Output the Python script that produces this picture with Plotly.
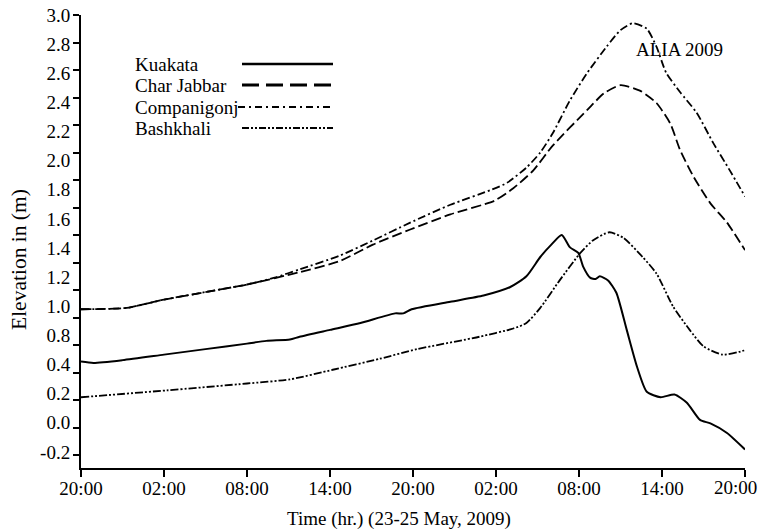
import plotly.graph_objects as go

# ---------------- data (hours after 23 May 20:00, elevation in m) ----------------
kuakata_h = [0, 0.9, 3, 6, 9, 12, 13.4, 15.1, 15.8, 18.0, 20.2, 22.7, 23.3, 23.9, 26.7, 29.1,
             31.0, 32.2, 33.2, 34.0, 34.75, 35.35, 35.95, 36.3, 36.8, 37.2, 37.5, 38.1, 38.7,
             39.45, 40.2, 40.9, 41.9, 42.9, 43.8, 44.75, 45.5, 46.7, 48]
kuakata_v = [0.48, 0.47, 0.49, 0.53, 0.57, 0.61, 0.63, 0.64, 0.66, 0.71, 0.76, 0.83, 0.83, 0.86,
             0.915, 0.96, 1.02, 1.10, 1.24, 1.33, 1.40, 1.31, 1.27, 1.17, 1.09, 1.08, 1.10, 1.07,
             0.98, 0.71, 0.44, 0.26, 0.22, 0.24, 0.18, 0.055, 0.03, -0.04, -0.16]

charjabbar_h = [0, 3.3, 6, 9, 12, 15.8, 18.7, 21.1, 23.8, 26.7, 29.9, 31.25, 32.7, 34.1, 36.6,
                37.8, 39.0, 40.4, 41.6, 42.6, 43.3, 44.3, 45.5, 46.7, 48]
charjabbar_v = [0.86, 0.87, 0.93, 0.985, 1.04, 1.13, 1.21, 1.33, 1.44, 1.55, 1.65, 1.74, 1.87,
                2.05, 2.31, 2.43, 2.49, 2.45, 2.36, 2.21, 2.02, 1.82, 1.63, 1.49, 1.29]

companigonj_h = [0, 3.3, 6, 9, 12, 14, 15.8, 18.7, 21.1, 23.8, 26.7, 29.7, 30.8, 32.2, 33.2,
                 34.1, 35.35, 36.6, 38.0, 39.0, 39.9, 40.9, 41.6, 42.3, 43.3, 44.5, 45.7, 46.9, 48]
companigonj_v = [0.86, 0.87, 0.93, 0.985, 1.04, 1.09, 1.15, 1.25, 1.36, 1.49, 1.62, 1.73, 1.78,
                 1.89, 2.00, 2.14, 2.38, 2.58, 2.77, 2.89, 2.94, 2.90, 2.77, 2.58, 2.44, 2.29,
                 2.07, 1.87, 1.68]

bashkhali_h = [0, 6.2, 12, 15.1, 18.2, 21.6, 24.3, 28.8, 31.25, 32.2, 33.2, 34.6, 36.1, 37.0,
               38.2, 39.2, 40.6, 41.6, 42.8, 44.0, 45.0, 46.4, 47.9, 48]
bashkhali_v = [0.22, 0.27, 0.32, 0.35, 0.42, 0.50, 0.57, 0.66, 0.72, 0.76, 0.87, 1.07, 1.27,
               1.36, 1.42, 1.38, 1.24, 1.12, 0.88, 0.71, 0.59, 0.53, 0.56, 0.57]

series_names = ["Kuakata", "Char Jabbar", "Companigonj", "Bashkhali"]

x_tick_hours = [0, 6, 12, 18, 24, 30, 36, 42, 48]
x_tick_labels = ["20:00", "02:00", "08:00", "14:00", "20:00", "02:00", "08:00", "14:00", "20:00"]

y_tick_values = [-0.2, 0.0, 0.2, 0.4, 0.6, 0.8, 1.0, 1.2, 1.4, 1.6, 1.8, 2.0, 2.2, 2.4, 2.6, 2.8, 3.0]
y_tick_labels = ["3.0", "2.8", "2.6", "2.4", "2.2", "2.0", "1.8", "1.6", "1.4", "1.2",
                 "1.0", "0.8", "0.4", "0.2", "0.0", "-0.2"]

# ---------------- styles ----------------
FONT = "Liberation Serif"
curve_dash = ["solid", "10px,4px", "8px,3px,2px,3px", "8px,2px,2px,2px,2px,2px"]
curve_width = [2, 1.8, 1.8, 1.8]
legend_dash = ["solid", "17px,7px", "7px,4px,2px,4px", "7px,2px,2px,2px,2px,2px"]
legend_width = [2.5, 3, 1.8, 1.8]

xs = [kuakata_h, charjabbar_h, companigonj_h, bashkhali_h]
ys = [kuakata_v, charjabbar_v, companigonj_v, bashkhali_v]

fig = go.Figure()
for name, x, y, d, w in zip(series_names, xs, ys, curve_dash, curve_width):
    fig.add_trace(go.Scatter(x=x, y=y, name=name, mode="lines",
                             line=dict(color="black", width=w, dash=d, shape="spline", smoothing=0.6),
                             showlegend=False))

# invisible trace to host the printed y labels on an overlaying axis
fig.add_trace(go.Scatter(x=[None], y=[None], yaxis="y2", showlegend=False, hoverinfo="skip"))

W, H = 760, 529
L, R, T, B = 81, 15, 15, 61
pw, ph = W - L - R, H - T - B

def px_x(px):
    return (px - L) / pw

def px_y(py):
    return (H - B - py) / ph

label_rows = len(y_tick_labels)
label_spacing = 29.13
bottom_index = (H - B - T) / label_spacing

# last x label is drawn flush with the right edge (as in the reference)
axis_ticktext = x_tick_labels[:-1] + [""]

fig.update_layout(
    width=W, height=H,
    margin=dict(l=L, r=R, t=T, b=B),
    paper_bgcolor="white", plot_bgcolor="white",
    font=dict(family=FONT, size=19, color="black"),
    showlegend=False,
    xaxis=dict(range=[0, 48], tickvals=x_tick_hours, ticktext=axis_ticktext,
               ticks="outside", ticklen=7, tickwidth=2, tickcolor="black",
               showline=True, linewidth=2, linecolor="black",
               showgrid=False, zeroline=False, automargin=False,
               ticklabelstandoff=-5,
               tickfont=dict(family=FONT, size=19)),
    yaxis=dict(range=[-0.2 - 13 / 137.5, 3.0], tickvals=y_tick_values, showticklabels=False,
               ticks="outside", ticklen=6, tickwidth=2, tickcolor="black",
               showline=True, linewidth=2, linecolor="black",
               showgrid=False, zeroline=False, automargin=False),
    yaxis2=dict(overlaying="y", side="left", range=[bottom_index, 0],
                tickvals=list(range(label_rows)), ticktext=y_tick_labels,
                ticks="outside", ticklen=6, tickcolor="rgba(0,0,0,0)",
                showline=False, showgrid=False, zeroline=False, automargin=False,
                tickfont=dict(family=FONT, size=19)),
)

annotations = [
    dict(text=x_tick_labels[-1], xref="paper", yref="paper",
         x=px_x(759), y=px_y(487), xanchor="right", yanchor="middle",
         showarrow=False, font=dict(family=FONT, size=19)),
    dict(text="Time (hr.) (23-25 May, 2009)", xref="paper", yref="paper",
         x=px_x(398.5), y=px_y(519), xanchor="center", yanchor="middle",
         showarrow=False, font=dict(family=FONT, size=19)),
    dict(text="Elevation in (m)", xref="paper", yref="paper", textangle=-90,
         x=px_x(19), y=px_y(260), xanchor="center", yanchor="middle",
         showarrow=False, font=dict(family=FONT, size=21.5)),
    dict(text="ALIA 2009", xref="paper", yref="paper",
         x=px_x(634), y=px_y(50), xanchor="left", yanchor="middle",
         showarrow=False, font=dict(family=FONT, size=19)),
]
legend_rows = [64, 85, 107, 128]
legend_x0 = [242, 242, 238, 242]
shapes = []
for name, row, x0, d, w in zip(series_names, legend_rows, legend_x0, legend_dash, legend_width):
    annotations.append(dict(text=name, xref="paper", yref="paper", x=px_x(133), y=px_y(row),
                            xanchor="left", yanchor="middle", showarrow=False,
                            font=dict(family=FONT, size=19)))
    shapes.append(dict(type="line", xref="paper", yref="paper",
                       x0=px_x(x0), x1=px_x(333), y0=px_y(row), y1=px_y(row),
                       line=dict(color="black", width=w, dash=d)))

fig.update_layout(annotations=annotations, shapes=shapes)
fig.write_html("out.html")
